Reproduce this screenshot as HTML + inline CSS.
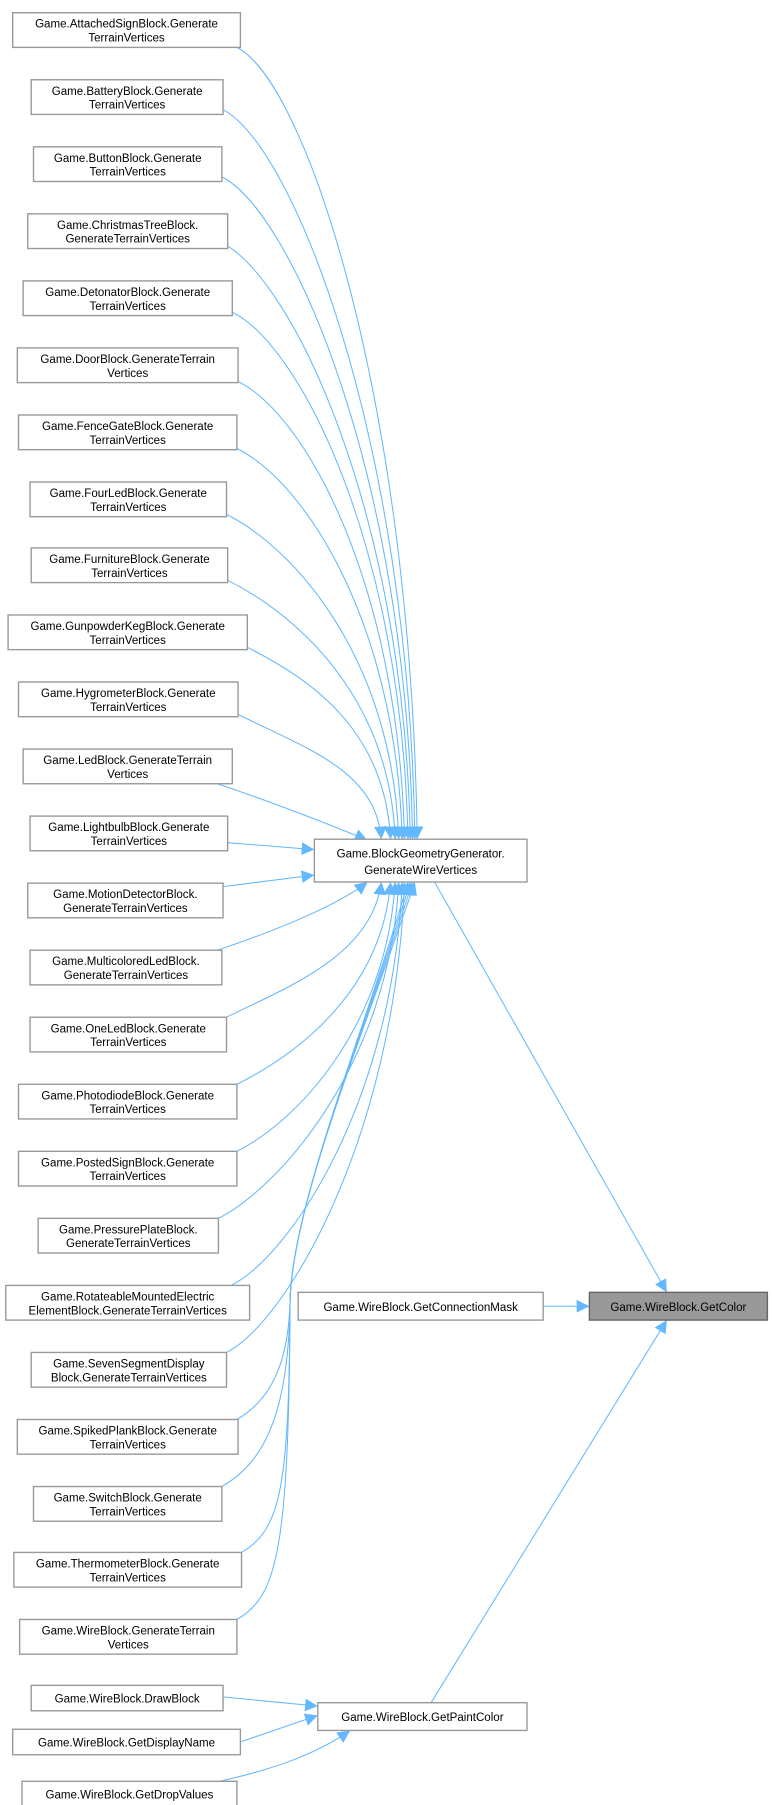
<!DOCTYPE html>
<html><head><meta charset="utf-8"><style>
html,body{margin:0;padding:0;background:#fff;}
svg{display:block}
text{font-family:"Liberation Sans",Arial,sans-serif;font-size:10px;fill:#000;}
</style></head><body>
<svg id="s" width="772" height="1805" viewBox="0 0 668 1561.5" preserveAspectRatio="none" xmlns="http://www.w3.org/2000/svg">
<defs><marker id="a" viewBox="0 0 10 10" refX="10" refY="5" markerWidth="11" markerHeight="11" markerUnits="userSpaceOnUse" orient="auto"><path d="M0,0 L10,5 L0,10 z" fill="#63b8ff"/></marker></defs>
<g id="edges" fill="none" stroke="#63b8ff" stroke-width="0.9"></g>
<g id="nodes" stroke="#999" stroke-width="1.2">
<rect x="11" y="11" width="197" height="30" fill="#fff"/><text stroke="none" text-anchor="middle" x="109.5" y="24">Game.AttachedSignBlock.Generate</text><text stroke="none" text-anchor="middle" x="109.5" y="36">TerrainVertices</text>
<rect x="27" y="69" width="166" height="30" fill="#fff"/><text stroke="none" text-anchor="middle" x="110" y="82">Game.BatteryBlock.Generate</text><text stroke="none" text-anchor="middle" x="110" y="94">TerrainVertices</text>
<rect x="29" y="127" width="163" height="30" fill="#fff"/><text stroke="none" text-anchor="middle" x="110.5" y="140">Game.ButtonBlock.Generate</text><text stroke="none" text-anchor="middle" x="110.5" y="152">TerrainVertices</text>
<rect x="24" y="185" width="173" height="30" fill="#fff"/><text stroke="none" text-anchor="middle" x="110.5" y="198">Game.ChristmasTreeBlock.</text><text stroke="none" text-anchor="middle" x="110.5" y="210">GenerateTerrainVertices</text>
<rect x="20" y="243" width="181" height="30" fill="#fff"/><text stroke="none" text-anchor="middle" x="110.5" y="256">Game.DetonatorBlock.Generate</text><text stroke="none" text-anchor="middle" x="110.5" y="268">TerrainVertices</text>
<rect x="15" y="301" width="191" height="30" fill="#fff"/><text stroke="none" text-anchor="middle" x="110.5" y="314">Game.DoorBlock.GenerateTerrain</text><text stroke="none" text-anchor="middle" x="110.5" y="326">Vertices</text>
<rect x="16" y="359" width="189" height="30" fill="#fff"/><text stroke="none" text-anchor="middle" x="110.5" y="372">Game.FenceGateBlock.Generate</text><text stroke="none" text-anchor="middle" x="110.5" y="384">TerrainVertices</text>
<rect x="26" y="417" width="170" height="30" fill="#fff"/><text stroke="none" text-anchor="middle" x="111" y="430">Game.FourLedBlock.Generate</text><text stroke="none" text-anchor="middle" x="111" y="442">TerrainVertices</text>
<rect x="27" y="474" width="170" height="30" fill="#fff"/><text stroke="none" text-anchor="middle" x="112" y="487">Game.FurnitureBlock.Generate</text><text stroke="none" text-anchor="middle" x="112" y="499">TerrainVertices</text>
<rect x="7" y="532" width="207" height="30" fill="#fff"/><text stroke="none" text-anchor="middle" x="110.5" y="545">Game.GunpowderKegBlock.Generate</text><text stroke="none" text-anchor="middle" x="110.5" y="557">TerrainVertices</text>
<rect x="16" y="590" width="190" height="30" fill="#fff"/><text stroke="none" text-anchor="middle" x="111" y="603">Game.HygrometerBlock.Generate</text><text stroke="none" text-anchor="middle" x="111" y="615">TerrainVertices</text>
<rect x="20" y="648" width="181" height="30" fill="#fff"/><text stroke="none" text-anchor="middle" x="110.5" y="661">Game.LedBlock.GenerateTerrain</text><text stroke="none" text-anchor="middle" x="110.5" y="673">Vertices</text>
<rect x="26" y="706" width="171" height="30" fill="#fff"/><text stroke="none" text-anchor="middle" x="111.5" y="719">Game.LightbulbBlock.Generate</text><text stroke="none" text-anchor="middle" x="111.5" y="731">TerrainVertices</text>
<rect x="24" y="764" width="169" height="30" fill="#fff"/><text stroke="none" text-anchor="middle" x="108.5" y="777">Game.MotionDetectorBlock.</text><text stroke="none" text-anchor="middle" x="108.5" y="789">GenerateTerrainVertices</text>
<rect x="26" y="822" width="166" height="30" fill="#fff"/><text stroke="none" text-anchor="middle" x="109" y="835">Game.MulticoloredLedBlock.</text><text stroke="none" text-anchor="middle" x="109" y="847">GenerateTerrainVertices</text>
<rect x="26" y="880" width="170" height="30" fill="#fff"/><text stroke="none" text-anchor="middle" x="111" y="893">Game.OneLedBlock.Generate</text><text stroke="none" text-anchor="middle" x="111" y="905">TerrainVertices</text>
<rect x="16" y="938" width="189" height="30" fill="#fff"/><text stroke="none" text-anchor="middle" x="110.5" y="951">Game.PhotodiodeBlock.Generate</text><text stroke="none" text-anchor="middle" x="110.5" y="963">TerrainVertices</text>
<rect x="16" y="996" width="189" height="30" fill="#fff"/><text stroke="none" text-anchor="middle" x="110.5" y="1009">Game.PostedSignBlock.Generate</text><text stroke="none" text-anchor="middle" x="110.5" y="1021">TerrainVertices</text>
<rect x="33" y="1054" width="156" height="30" fill="#fff"/><text stroke="none" text-anchor="middle" x="111" y="1067">Game.PressurePlateBlock.</text><text stroke="none" text-anchor="middle" x="111" y="1079">GenerateTerrainVertices</text>
<rect x="5" y="1112" width="211" height="30" fill="#fff"/><text stroke="none" text-anchor="middle" x="110.5" y="1125">Game.RotateableMountedElectric</text><text stroke="none" text-anchor="middle" x="110.5" y="1137">ElementBlock.GenerateTerrainVertices</text>
<rect x="27" y="1170" width="169" height="30" fill="#fff"/><text stroke="none" text-anchor="middle" x="111.5" y="1183">Game.SevenSegmentDisplay</text><text stroke="none" text-anchor="middle" x="111.5" y="1195">Block.GenerateTerrainVertices</text>
<rect x="15" y="1228" width="191" height="30" fill="#fff"/><text stroke="none" text-anchor="middle" x="110.5" y="1241">Game.SpikedPlankBlock.Generate</text><text stroke="none" text-anchor="middle" x="110.5" y="1253">TerrainVertices</text>
<rect x="29" y="1286" width="163" height="30" fill="#fff"/><text stroke="none" text-anchor="middle" x="110.5" y="1299">Game.SwitchBlock.Generate</text><text stroke="none" text-anchor="middle" x="110.5" y="1311">TerrainVertices</text>
<rect x="12" y="1343" width="197" height="30" fill="#fff"/><text stroke="none" text-anchor="middle" x="110.5" y="1356">Game.ThermometerBlock.Generate</text><text stroke="none" text-anchor="middle" x="110.5" y="1368">TerrainVertices</text>
<rect x="17" y="1401" width="188" height="30" fill="#fff"/><text stroke="none" text-anchor="middle" x="111" y="1414">Game.WireBlock.GenerateTerrain</text><text stroke="none" text-anchor="middle" x="111" y="1426">Vertices</text>
<rect x="272" y="726" width="184" height="37" fill="#fff"/><text stroke="none" text-anchor="middle" x="364" y="742">Game.BlockGeometryGenerator.</text><text stroke="none" text-anchor="middle" x="364" y="756">GenerateWireVertices</text>
<rect x="258" y="1118" width="212" height="24" fill="#fff"/><text stroke="none" text-anchor="middle" x="364" y="1134">Game.WireBlock.GetConnectionMask</text>
<rect x="510" y="1118" width="154" height="24" fill="#999" stroke="#666"/><text stroke="none" text-anchor="middle" x="587" y="1134">Game.WireBlock.GetColor</text>
<rect x="27" y="1458" width="166" height="22" fill="#fff"/><text stroke="none" text-anchor="middle" x="110" y="1473">Game.WireBlock.DrawBlock</text>
<rect x="11" y="1496" width="197" height="22" fill="#fff"/><text stroke="none" text-anchor="middle" x="109.5" y="1511">Game.WireBlock.GetDisplayName</text>
<rect x="19" y="1541" width="186" height="23" fill="#fff"/><text stroke="none" text-anchor="middle" x="112" y="1556">Game.WireBlock.GetDropValues</text>
<rect x="275" y="1473" width="181" height="24" fill="#fff"/><text stroke="none" text-anchor="middle" x="365.5" y="1489">Game.WireBlock.GetPaintColor</text>
</g>
</svg>
<script>
var g=document.getElementById('edges');
function p(d){var e=document.createElementNS('http://www.w3.org/2000/svg','path');e.setAttribute('d',d);e.setAttribute('marker-end','url(#a)');g.appendChild(e);}
var up=[[205,41,361],[193,95,359],[192,153,357],[192,210,355],[201,270,353],[206,330,350],[205,388,348],[196,445,345],[197,502,342],[214,560,338],[206,618,330]];
up.forEach(function(b){var tx=b[2],ty=726;p('M'+b[0]+','+b[1]+' C'+(b[0]+60)+','+(b[1]+30)+' '+(tx-5)+','+(b[1]+(ty-b[1])*0.45)+' '+tx+','+ty);});
p('M188,678 C230,692 290,715 318,727');
p('M197,729 L272,735');
p('M193,767 L272,757');
p('M188,822 C230,808 290,785 318,763');
var lo=[[196,880,330],[205,938,338],[205,996,342],[189,1054,345],[200,1112,348],[196,1170,350]];
lo.forEach(function(b){var tx=b[2],ty=763;p('M'+b[0]+','+b[1]+' C'+(b[0]+50)+','+(b[1]-25)+' '+(tx-8)+','+(b[1]-(b[1]-ty)*0.45)+' '+tx+','+ty);});
var lo2=[[205,1228,353],[192,1286,355],[209,1343,357],[205,1401,359]];
lo2.forEach(function(b){p('M'+b[0]+','+b[1]+' C'+(b[0]+35)+','+(b[1]-20)+' '+250+','+(b[1]-60)+' 251,1125 C253,1040 320,880 '+b[2]+',763');});
p('M376,763 L577,1118');
p('M470,1130 L510,1130');
p('M373,1473 L577,1142');
p('M193,1468 L275,1476');
p('M208,1507 L275,1484');
p('M190,1541 C230,1532 270,1520 303,1497');
</script>
</body></html>
